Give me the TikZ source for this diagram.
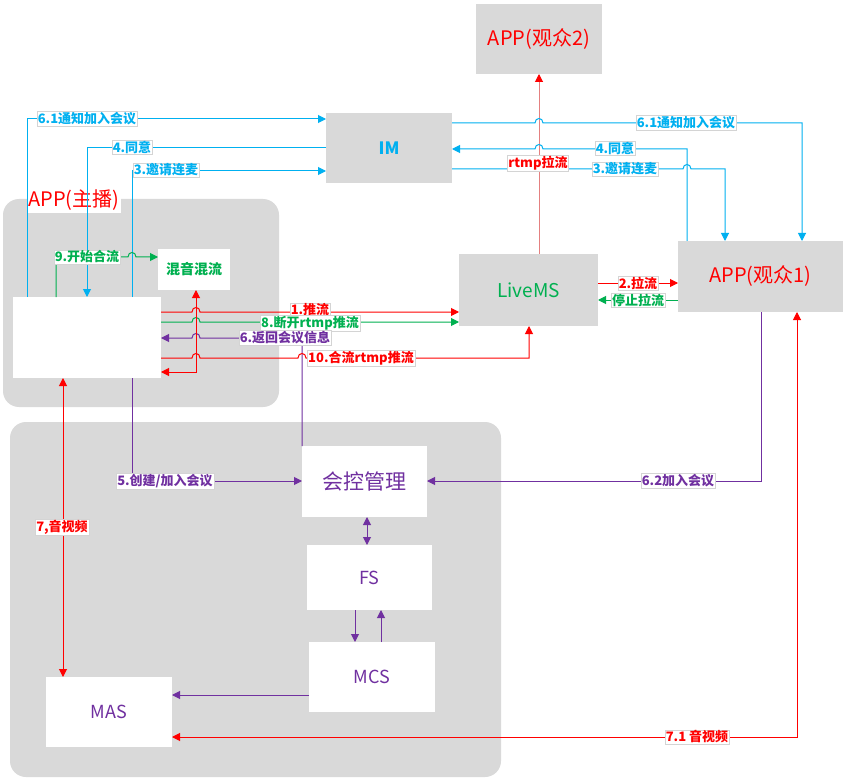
\documentclass[tikz,border=0pt]{standalone}
\usepackage{fontspec}
\setmainfont{Noto Sans CJK SC}
\usetikzlibrary{arrows.meta}
\definecolor{cblue}{HTML}{00B0F0}
\definecolor{cgreen}{HTML}{00B050}
\definecolor{cpurple}{HTML}{7030A0}
\definecolor{cred}{HTML}{FF0000}
\definecolor{cpink}{RGB}{228,128,128}
\definecolor{cgray}{HTML}{D9D9D9}
\definecolor{cedge}{HTML}{D4D4D4}
\newcommand{\fs}[1]{\fontsize{#1}{#1}\selectfont}
\begin{document}
\begin{tikzpicture}[x=1pt,y=-1pt,
  >={Triangle[length=8pt,width=8pt]},
  conn/.style={line width=1pt},
  bl/.style={conn,cblue},
  gl/.style={conn,cgreen},
  rl/.style={conn,cred},
  pl/.style={conn,cpurple},
  box/.style={anchor=north west,inner sep=0pt,outer sep=0pt},
  gbox/.style={box,fill=cgray},
  wbox/.style={box,fill=white},
  lab/.style={fill=white,draw=cedge,line width=0.4pt,inner sep=1pt,font=\bfseries\fs{13}},
]
\useasboundingbox (0,0) rectangle (847,781);
\fill[white] (0,0) rectangle (847,781);

% grouping panels
\node[gbox,rounded corners=16pt,minimum width=276pt,minimum height=208pt] (hostgrp) at (3,199) {};
\node[gbox,rounded corners=16pt,minimum width=491pt,minimum height=355pt] (ctrlgrp) at (10,422) {};

% servers and clients
\node[gbox,minimum width=126pt,minimum height=70pt,text=cred,font=\fs{20}] (app2) at (476,4) {APP(观众2)};
\node[gbox,minimum width=126pt,minimum height=70pt,text=cblue,font=\bfseries\fs{17}] (im) at (326,113) {IM};
\node[gbox,minimum width=139pt,minimum height=72pt,text=cgreen,font=\fs{19}] (livems) at (459,254) {LiveMS};
\node[gbox,minimum width=165pt,minimum height=71pt,text=cred,font=\fs{20}] (app1) at (678,241) {APP(观众1)};
\node[wbox,minimum width=148pt,minimum height=81pt] (host) at (13,297) {};
\node[wbox,minimum width=72pt,minimum height=41pt,text=cgreen,font=\bfseries\fs{14}] (mix) at (158,249) {混音混流};
\node[box,fill=white,minimum width=94pt,minimum height=25pt,text=cred,font=\fs{20}] (hostname) at (27,188) {APP(主播)};
\node[wbox,minimum width=125pt,minimum height=71pt,text=cpurple,font=\fs{21}] (hk) at (302,446) {会控管理};
\node[wbox,minimum width=125pt,minimum height=65pt,text=cpurple,font=\fs{18}] (fs) at (307,545) {FS};
\node[wbox,minimum width=126pt,minimum height=70pt,text=cpurple,font=\fs{18}] (mcs) at (309,642) {MCS};
\node[wbox,minimum width=126pt,minimum height=70pt,text=cpurple,font=\fs{18}] (mas) at (46,677) {MAS};

% signalling through IM (host side)
\draw[bl,->] (host.north -| 27,0) -- (27,119) -- (im.west |- 0,119);
\draw[bl,->] (im.west |- 0,148) -- (87,148) -- (host.north -| 87,0);
\draw[bl,->] (host.north -| 132,0) -- (132,171) -- (im.west |- 0,171);

% rtmp pull by the second viewer
\draw[conn,cpink,-{Triangle[length=8pt,width=8pt,color=cred]}] (livems.north -| 539,0) -- (app2.south -| 539,0);

% signalling through IM (viewer side)
\draw[bl,->] (im.east |- 0,123) -- (535,123) .. controls (535,117) and (543,117) .. (543,123) -- (802,123) -- (app1.north -| 802,0);
\draw[bl,->] (app1.north -| 687,0) -- (687,149) -- (543,149) .. controls (543,143) and (535,143) .. (535,149) -- (im.east |- 0,149);
\draw[bl,->] (im.east |- 0,169) -- (683,169) .. controls (683,163) and (691,163) .. (691,169) -- (725,169) -- (app1.north -| 725,0);

% viewer pull
\draw[rl,->] (livems.east |- 0,283) -- (app1.west |- 0,283);
\draw[gl,->] (app1.west |- 0,300) -- (livems.east |- 0,300);

% host streams
\draw[rl,->] (host.east |- 0,312) -- (192,312) .. controls (192,306) and (200,306) .. (200,312) -- (livems.west |- 0,312);
\draw[gl,->] (host.east |- 0,322) -- (192,322) .. controls (192,316) and (200,316) .. (200,322) -- (livems.west |- 0,322);
\draw[pl,->] (hk.north west) -- (302,338) -- (200,338) .. controls (200,332) and (192,332) .. (192,338) -- (host.east |- 0,338);
\draw[rl,->] (host.east |- 0,358) -- (192,358) .. controls (192,352) and (200,352) .. (200,358) -- (298,358) .. controls (298,352) and (306,352) .. (306,358) -- (529,358) -- (livems.south -| 529,0);
\draw[rl,<->] (mix.south -| 196,0) -- (196,372) -- (host.east |- 0,372);
\draw[gl,->] (host.north -| 56,0) -- (56,257) -- (128,257) .. controls (128,251) and (136,251) .. (136,257) -- (mix.west |- 0,257);

% conference control
\draw[pl,->] (host.south -| 132,0) -- (132,481) -- (hk.west |- 0,481);
\draw[pl,->] (app1.south -| 761,0) -- (761,481) -- (hk.east |- 0,481);
\draw[rl,<->] (host.south -| 63,0) -- (mas.north -| 63,0);
\draw[pl,<->] (hk.south -| 367,0) -- (fs.north -| 367,0);
\draw[pl,->] (fs.south -| 355,0) -- (mcs.north -| 355,0);
\draw[pl,->] (mcs.north -| 381,0) -- (fs.south -| 381,0);
\draw[pl,->] (mcs.west |- 0,695) -- (mas.east |- 0,695);
\draw[rl,<->] (app1.south -| 797,0) -- (797,737) -- (mas.east |- 0,737);

% connector labels
\node[lab,text=cblue] (l61a) at (87,119) {6.1通知加入会议};
\node[lab,text=cblue] (l4a) at (132,147) {4.同意};
\node[lab,text=cblue] (l3a) at (166,170) {3.邀请连麦};
\node[lab,text=cblue] (l61b) at (686,123) {6.1通知加入会议};
\node[lab,text=cblue] (l4b) at (615,148) {4.同意};
\node[lab,text=cblue] (l3b) at (625,169) {3.邀请连麦};
\node[lab,text=cred] (lrtmp) at (538,163) {rtmp拉流};
\node[lab,text=cred] (l2) at (638,283) {2.拉流};
\node[lab,text=cgreen] (lstop) at (638,300) {停止拉流};
\node[lab,text=cred] (l1) at (310,310) {1.推流};
\node[lab,text=cgreen] (l8) at (310,323) {8.断开rtmp推流};
\node[lab,text=cpurple] (l6) at (285,338) {6.返回会议信息};
\node[lab,text=cred] (l10) at (361,358) {10.合流rtmp推流};
\node[lab,text=cgreen] (l9) at (87,257) {9.开始合流};
\node[lab,text=cpurple] (l5) at (165,481) {5.创建/加入会议};
\node[lab,text=cpurple] (l62) at (678,481) {6.2加入会议};
\node[lab,text=cred] (l7) at (62,527) {7,音视频};
\node[lab,text=cred] (l71) at (697,737) {7.1 音视频};
\end{tikzpicture}
\end{document}
